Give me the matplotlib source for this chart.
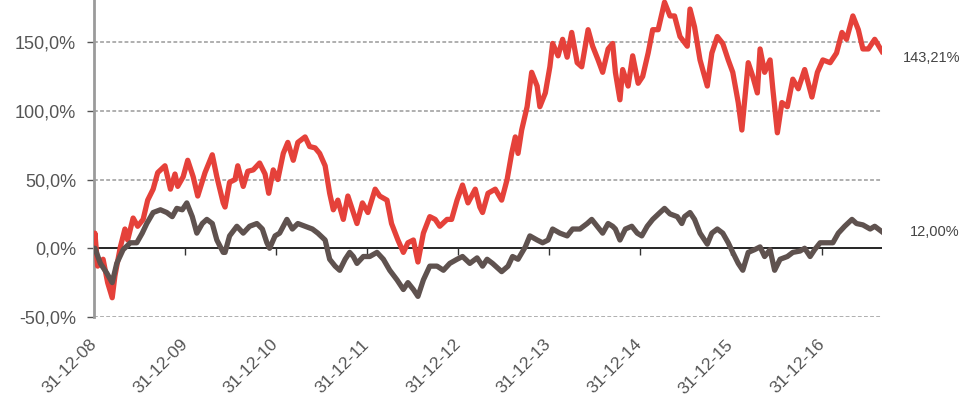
import numpy as np
import pandas as pd
import matplotlib
matplotlib.use("Agg")
import matplotlib.pyplot as plt
import matplotlib.dates as mdates
from matplotlib.ticker import FuncFormatter

# fractional years (2009.00 = 31-12-08) and cumulative return in %
red_years = [2009.00, 2009.01, 2009.04, 2009.10, 2009.15, 2009.20, 2009.23, 2009.29, 2009.34, 2009.37,
             2009.43, 2009.48, 2009.54, 2009.59, 2009.65, 2009.70, 2009.78, 2009.84, 2009.89, 2009.92,
             2009.98, 2010.03, 2010.09, 2010.14, 2010.22, 2010.30, 2010.35, 2010.42, 2010.44, 2010.49,
             2010.55, 2010.58, 2010.64, 2010.69, 2010.75, 2010.82, 2010.88, 2010.92, 2010.97, 2011.02,
             2011.08, 2011.13, 2011.19, 2011.24, 2011.32, 2011.37, 2011.43, 2011.48, 2011.54, 2011.59,
             2011.63, 2011.68, 2011.74, 2011.79, 2011.85, 2011.89, 2011.95, 2012.01, 2012.09, 2012.14,
             2012.22, 2012.27, 2012.34, 2012.40, 2012.45, 2012.51, 2012.56, 2012.62, 2012.69, 2012.75,
             2012.80, 2012.88, 2012.93, 2012.99, 2013.05, 2013.11, 2013.19, 2013.24, 2013.27, 2013.33,
             2013.41, 2013.48, 2013.54, 2013.59, 2013.63, 2013.66, 2013.70, 2013.76, 2013.81, 2013.87,
             2013.90, 2013.96, 2014.01, 2014.04, 2014.10, 2014.15, 2014.20, 2014.25, 2014.31, 2014.36,
             2014.43, 2014.48, 2014.54, 2014.59, 2014.65, 2014.70, 2014.73, 2014.78, 2014.81, 2014.87,
             2014.92, 2014.98, 2015.03, 2015.09, 2015.14, 2015.20, 2015.27, 2015.33, 2015.38, 2015.44,
             2015.52, 2015.55, 2015.60, 2015.66, 2015.74, 2015.79, 2015.85, 2015.91, 2015.97, 2016.02,
             2016.08, 2016.12, 2016.19, 2016.24, 2016.29, 2016.32, 2016.37, 2016.43, 2016.46, 2016.51,
             2016.56, 2016.62, 2016.68, 2016.74, 2016.81, 2016.89, 2016.95, 2017.01, 2017.09, 2017.16,
             2017.22, 2017.27, 2017.34, 2017.40, 2017.45, 2017.51, 2017.58, 2017.66]
red_values = [0, 11, -13, -8, -25, -36, -20, 1, 14, 6,
              22, 16, 21, 35, 43, 55, 60, 43, 54, 45,
              52, 64, 52, 38, 55, 68, 52, 33, 30, 48,
              50, 60, 45, 56, 57, 62, 54, 40, 57, 50,
              69, 77, 64, 77, 81, 74, 73, 69, 60, 40,
              28, 35, 21, 38, 26, 18, 33, 26, 43, 38,
              35, 18, 6, -3, 4, 6, -10, 11, 23, 21,
              16, 21, 21, 35, 46, 33, 43, 30, 26, 40,
              43, 35, 50, 69, 81, 69, 86, 103, 128, 118,
              103, 113, 132, 149, 140, 152, 139, 157, 135, 132,
              159, 147, 137, 128, 145, 149, 128, 108, 130, 118,
              140, 120, 125, 142, 159, 159, 179, 169, 169, 154,
              147, 174, 161, 137, 118, 142, 154, 149, 137, 128,
              106, 86, 135, 125, 113, 145, 128, 137, 116, 84,
              106, 103, 123, 116, 130, 110, 128, 137, 135, 142,
              157, 152, 169, 159, 145, 145, 152, 143.21]

brown_years = [2009.00, 2009.01, 2009.07, 2009.14, 2009.20, 2009.25, 2009.32, 2009.40, 2009.47, 2009.53,
               2009.58, 2009.65, 2009.73, 2009.80, 2009.86, 2009.91, 2009.97, 2010.02, 2010.08, 2010.13,
               2010.19, 2010.24, 2010.30, 2010.35, 2010.42, 2010.44, 2010.49, 2010.57, 2010.64, 2010.71,
               2010.79, 2010.85, 2010.90, 2010.93, 2010.99, 2011.04, 2011.12, 2011.18, 2011.24, 2011.32,
               2011.40, 2011.46, 2011.54, 2011.59, 2011.65, 2011.70, 2011.76, 2011.81, 2011.85, 2011.89,
               2011.96, 2012.03, 2012.11, 2012.18, 2012.25, 2012.33, 2012.40, 2012.45, 2012.51, 2012.56,
               2012.62, 2012.69, 2012.77, 2012.84, 2012.91, 2012.99, 2013.05, 2013.13, 2013.21, 2013.27,
               2013.32, 2013.38, 2013.48, 2013.55, 2013.60, 2013.66, 2013.74, 2013.79, 2013.87, 2013.93,
               2013.99, 2014.04, 2014.12, 2014.20, 2014.26, 2014.34, 2014.42, 2014.47, 2014.53, 2014.59,
               2014.65, 2014.70, 2014.73, 2014.78, 2014.84, 2014.91, 2014.97, 2015.02, 2015.08, 2015.14,
               2015.22, 2015.27, 2015.33, 2015.41, 2015.46, 2015.49, 2015.55, 2015.60, 2015.66, 2015.74,
               2015.79, 2015.85, 2015.91, 2015.97, 2016.02, 2016.08, 2016.13, 2016.19, 2016.26, 2016.32,
               2016.37, 2016.43, 2016.48, 2016.54, 2016.62, 2016.68, 2016.76, 2016.81, 2016.87, 2016.92,
               2016.98, 2017.05, 2017.12, 2017.18, 2017.25, 2017.33, 2017.38, 2017.45, 2017.53, 2017.58,
               2017.66]
brown_values = [0, 0, -11, -18, -25, -11, -1, 4, 4, 11,
                18, 26, 28, 26, 23, 29, 28, 33, 23, 11,
                18, 21, 18, 6, -3, -3, 9, 16, 11, 16,
                18, 14, 4, 0, 9, 11, 21, 14, 18, 16,
                14, 11, 6, -8, -13, -16, -8, -3, -6, -11,
                -6, -6, -3, -8, -16, -23, -30, -25, -30, -35,
                -23, -13, -13, -16, -11, -8, -6, -11, -7, -13,
                -8, -11, -17, -13, -6, -8, 1, 9, 6, 4,
                6, 14, 11, 9, 14, 14, 18, 21, 16, 11,
                18, 16, 14, 6, 14, 16, 11, 9, 16, 21,
                26, 29, 25, 23, 18, 23, 26, 21, 11, 3,
                11, 14, 11, 4, -3, -11, -16, -3, -1, 1,
                -6, -1, -16, -8, -6, -3, -2, 0, -6, -1,
                4, 4, 4, 11, 16, 21, 18, 17, 14, 16,
                12.0]

red_label = "143,21%"
brown_label = "12,00%"
tick_dates = pd.date_range("2008-12-31", periods=9, freq="YE")


def to_dates(years):
    years = np.asarray(years)
    return pd.Timestamp("2008-12-31") + pd.to_timedelta((years - 2009.0) * 365.25, unit="D")


red_dates = to_dates(red_years)
brown_dates = to_dates(brown_years)

plt.rcParams['font.family'] = ['Liberation Sans', 'DejaVu Sans']

fig = plt.figure(figsize=(9.6, 4), dpi=100)
ax = fig.add_axes([94 / 960, 1 - 317 / 400, (882 - 94) / 960, 317 / 400])

ax.plot(red_dates, red_values, color="#e5413a", lw=3.8, solid_joinstyle="round", zorder=3)
ax.plot(brown_dates, brown_values, color="#5f524f", lw=3.8, solid_joinstyle="round", zorder=4)

ax.set_xlim(red_dates[0], red_dates[-1])
ax.set_ylim(-50, 180.6)

# gridlines and zero line
ax.set_yticks([-50, 0, 50, 100, 150])
for v in [-50, 50, 100, 150]:
    ax.axhline(v, color="#9a9a9a", lw=1.1, ls=(0, (2.5, 1.5)), zorder=1)
ax.axhline(0, color="black", lw=1.2, zorder=2)
ax.plot(tick_dates, np.zeros(len(tick_dates)), linestyle="none", marker=3, ms=5,
        mew=1.0, color="#333333", zorder=2)

for s in ["top", "right", "bottom"]:
    ax.spines[s].set_visible(False)
ax.spines["left"].set_color("#9a9a9a")
ax.spines["left"].set_linewidth(2)

ax.yaxis.set_major_formatter(FuncFormatter(lambda v, p: f"{v:.1f}%".replace(".", ",")))
ax.tick_params(axis="y", length=5, width=1, color="#555555", labelsize=13,
               labelcolor="#555555", pad=8)

ax.set_xticks(tick_dates)
ax.xaxis.set_major_formatter(mdates.DateFormatter("%d-%m-%y"))
ax.tick_params(axis="x", length=0, labelsize=12.5, labelcolor="#555555", pad=18)
for lab in ax.get_xticklabels():
    lab.set_rotation(45)
    lab.set_ha("right")
    lab.set_va("center")
    lab.set_rotation_mode("anchor")

ax.text(1.027, (red_values[-1] - 5 + 50) / 230.6, red_label, transform=ax.transAxes,
        fontsize=10.5, color="#444444", va="center", ha="left", clip_on=False)
ax.text(1.036, (brown_values[-1] + 50) / 230.6, brown_label, transform=ax.transAxes,
        fontsize=10.5, color="#444444", va="center", ha="left", clip_on=False)

fig.savefig("out.png", dpi=100)
